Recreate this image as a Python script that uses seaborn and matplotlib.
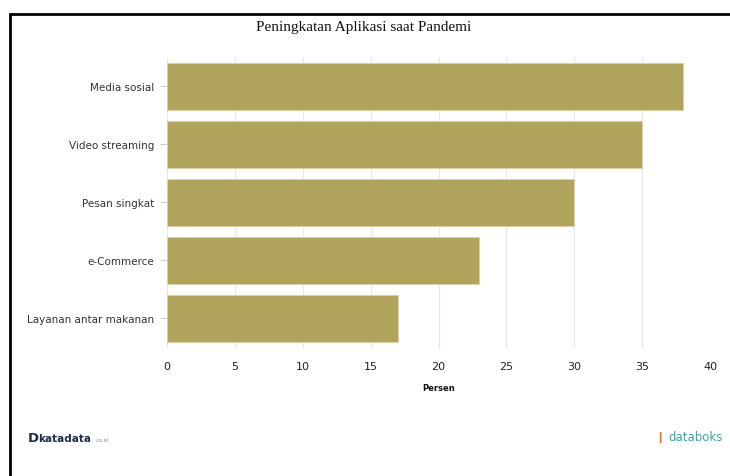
import matplotlib
matplotlib.use("Agg")
import matplotlib.pyplot as plt
import seaborn as sns
import pandas as pd
from matplotlib.lines import Line2D

categories = ["Media sosial", "Video streaming", "Pesan singkat", "e-Commerce", "Layanan antar makanan"]
values = [38, 35, 30, 23, 17]
xticks = [0, 5, 10, 15, 20, 25, 30, 35, 40]

df = pd.DataFrame({"kategori": categories, "persen": values})

sns.set_theme(style="white")
plt.rcParams['font.family'] = ['DejaVu Sans']

W, H = 730, 477
fig = plt.figure(figsize=(W / 100, H / 100), dpi=100)
fig.patch.set_facecolor("white")

left, right, top, bottom = 167, 710, 58, 350
ax = fig.add_axes([left / W, 1 - bottom / H, (right - left) / W, (bottom - top) / H])

sns.barplot(data=df, y="kategori", x="persen", orient="h", color="#b0a35c",
            saturation=1, width=0.81, edgecolor="#d8d0a8", linewidth=0.8, ax=ax, zorder=3)

ax.set_xlim(0, 40)
ax.set_ylim(4.53, -0.5)
ax.set_xticks(xticks)
ax.set_xticklabels([str(t) for t in xticks], fontsize=8, color="#222222")
ax.tick_params(axis="x", length=0, pad=8.5)
ax.tick_params(axis="y", length=5, color="#cccccc", width=0.8, pad=4, labelsize=7.5, labelcolor="#333333", left=True)
ax.grid(axis="x", color="#e8e8e8", linewidth=0.8, zorder=0)
ax.set_axisbelow(True)
for s in ax.spines.values():
    s.set_visible(False)
ax.set_ylabel("")
ax.set_xlabel("Persen", fontsize=6, fontweight="bold", color="#111111", labelpad=9)

fig.text(364 / W, 1 - 28 / H, "Peningkatan Aplikasi saat Pandemi", ha="center", va="center",
         fontsize=11, family="Liberation Serif", color="#111111")

# frame lines
fig.add_artist(Line2D([9.5 / W, 9.5 / W], [0, 1 - 14.5 / H], transform=fig.transFigure, color="black", linewidth=2))
fig.add_artist(Line2D([9.5 / W, 1], [1 - 14.5 / H, 1 - 14.5 / H], transform=fig.transFigure, color="black", linewidth=2))

# logos as text
fig.text(28 / W, 1 - 439 / H, "D", ha="left", va="center", fontsize=9.5, fontweight="bold", color="#1c2b4a")
fig.text(38 / W, 1 - 439 / H, "katadata", ha="left", va="center", fontsize=7.5, fontweight="bold", color="#1c2b4a")
fig.text(95 / W, 1 - 441 / H, ".co.id", ha="left", va="center", fontsize=3.5, color="#8a8a8a")
fig.text(655 / W, 1 - 438 / H, "\u2759", ha="left", va="center", fontsize=8, color="#e8743c")
fig.text(668 / W, 1 - 438 / H, "databoks", ha="left", va="center", fontsize=8.5, color="#3aa8a8")

fig.savefig("out.png", dpi=100)
